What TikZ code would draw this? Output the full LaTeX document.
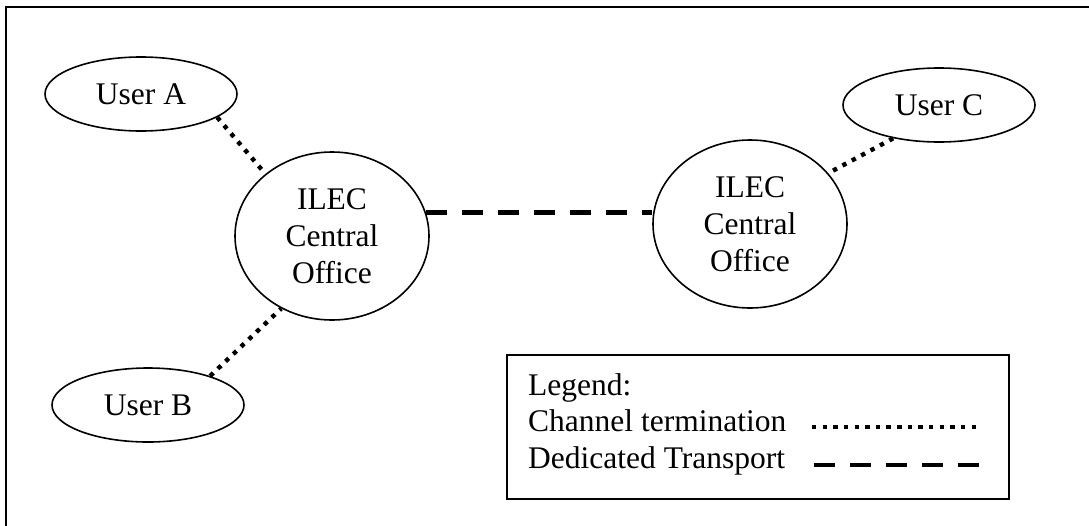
\documentclass[tikz,border=0pt]{standalone}
\usepackage{fontspec}
\setmainfont{Liberation Serif}
\usepackage{tikz}
\usetikzlibrary{shapes,arrows,positioning,calc}

\tikzset{
    user/.style={ellipse, draw, line width=1.6pt, minimum width=192pt, minimum height=74pt, inner sep=0pt},
    office/.style={ellipse, draw, line width=1.6pt, minimum width=194pt, minimum height=168pt, inner sep=0pt, align=center},
    channel/.style={line width=4.4pt, dash pattern=on 4.4pt off 6.24pt},
    transport/.style={line width=4.4pt, dash pattern=on 21pt off 15pt},
    legendtext/.style={anchor=base west, inner sep=0pt}
}

\begin{document}
\begin{tikzpicture}[x=1pt, y=-1pt, font=\fontsize{31.5}{37}\selectfont]
            \useasboundingbox (0,0) rectangle (1089,525);
            \clip (0,0) rectangle (1089,525);
            % outer frame, only its top and left sides fall inside
            \draw[line width=2.2pt] (6,540) -- (6,7) -- (1100,7);

            \node[user] (usera) at (141,94) {User A};
            \node[user] (userb) at (148,405) {User B};
            \node[user] (userc) at (939,105) {User C};
            \node[office] (ilecl) at (332,236) {ILEC\\Central\\Office};
            \node[office] (ilecr) at (750,224) {ILEC\\Central\\Office};

            \draw[channel] (usera.-17) -- (ilecl.137);
            \draw[channel] (userb.25) -- (ilecl.-125);
            \draw[channel] (userc.-144) -- (ilecr.33);
            \draw[transport] (ilecl.14) -- (ilecl.14 -| ilecr.west);

            % legend
            \draw[line width=1.6pt] (507,355) rectangle (1009,499);
            \node[legendtext] (legend) at (528,395) {Legend:};
            \node[legendtext] (chanlabel) at (528,431) {Channel termination};
            \node[legendtext] (translabel) at (528,468) {Dedicated Transport};
            \coordinate (chanstart) at (812,427);
            \coordinate (chanend) at (976.5,427);
            \coordinate (transstart) at (814,465);
            \coordinate (transend) at (981,465);
            \draw[channel] (chanstart) -- (chanend);
            \draw[transport] (transstart) -- (transend);
        \end{tikzpicture}
\end{document}
